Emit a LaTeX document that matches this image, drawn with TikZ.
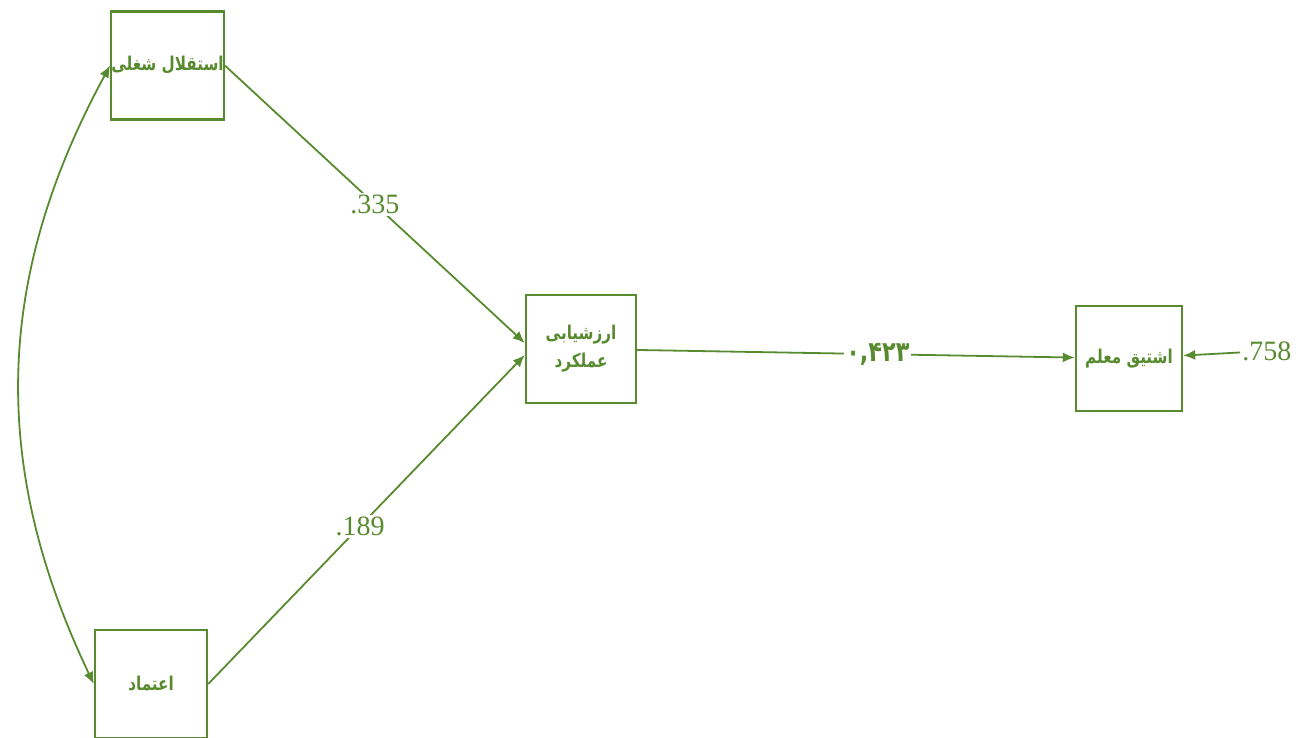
\documentclass[tikz,border=0pt]{standalone}
\usepackage{fontspec}
\setmainfont{Liberation Serif}
\newfontfamily\farsi[Script=Arabic, FakeStretch=0.8]{DejaVu Sans}
\TeXXeTstate=1
\usetikzlibrary{arrows.meta, positioning}
\tikzset{>={Latex[width=5pt,length=6pt]}}
\definecolor{semgreen}{RGB}{88,139,48}

\begin{document}
\begin{tikzpicture}[x=0.5pt, y=-0.5pt,
  var/.style = {draw = semgreen, line width = 1.2pt, minimum width = 55pt,
    minimum height = 54pt, inner sep = 0pt, text = semgreen, align = center,
    font = \farsi\bfseries\fontsize{9.5}{14}\selectfont},
  coef/.style = {fill = white, text = semgreen, inner sep = 1pt,
    font = \fontsize{14}{16}\selectfont}]
  \useasboundingbox (0,0) rectangle (1306,738);
		\node (istiqlal) [var] at (167.5,65.5) {\beginR استقلال شغلی\endR};
		\node (arzyabi) [var] at (581,349) {\beginR ارزشیابی\endR\\\beginR عملکرد\endR};
		\node (ishtiaq) [var, minimum width = 53pt, minimum height = 52.5pt] at (1129,358.5) {\beginR اشتیق معلم\endR};
		\node (itimad) [var, minimum width = 56pt] at (151,684) {\beginR اعتماد\endR};
		\node (err) [coef, fill = none, anchor = west] at (1240,351) {.758};
		\path[->, semgreen, line width = 0.9pt]
		(istiqlal.east) edge node [coef, pos = 0.5] {.335} ([yshift = 3pt]arzyabi.west)
		(itimad.east) edge node [coef, pos = 0.48] {.189} ([yshift = -3pt]arzyabi.west)
		(arzyabi) edge node [coef, pos = 0.55, font = \farsi\bfseries\fontsize{14}{16}\selectfont] {۰,۴۲۳} (ishtiaq)
		(err) edge (ishtiaq)
		(istiqlal.west) edge [<->, bend right = 27] (itimad.west);
\end{tikzpicture}
\end{document}
